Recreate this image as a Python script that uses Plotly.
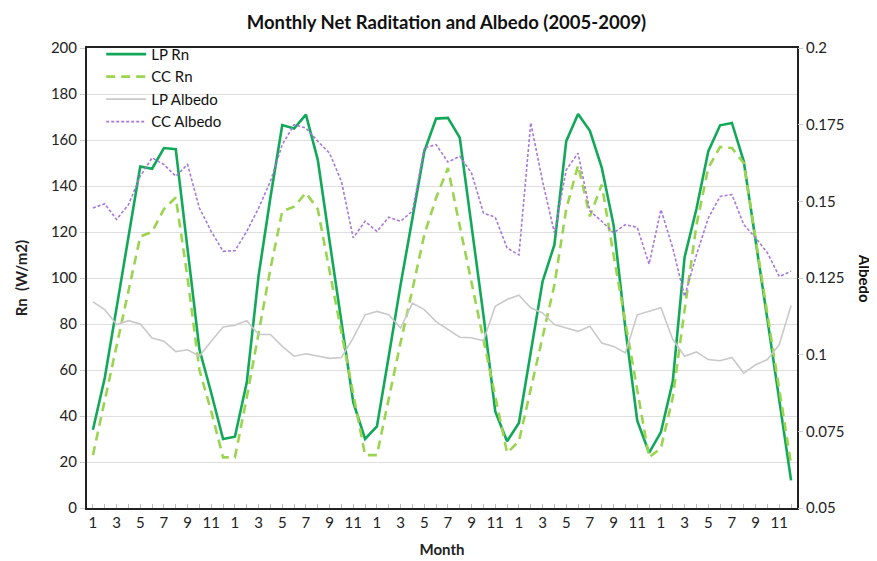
import plotly.graph_objects as go

month_labels = [str(m) if m % 2 == 1 else "" for _ in range(5) for m in range(1, 13)]
months = list(range(1, 61))

lp_rn = [34, 56.5, 87, 118, 148.5, 147.5, 156.5, 156, 113, 69, 50, 30,
         31, 54.5, 101, 135, 166.5, 165, 171, 151.5, 116, 80, 46, 30,
         35.5, 66, 97, 126, 155, 169.3, 169.6, 161, 123, 84, 42, 29,
         37, 68, 98.5, 114.5, 159.5, 171.3, 164, 148, 123, 78, 38, 24,
         33, 55, 109, 130, 155, 166.4, 167.4, 150.7, 117, 82, 47, 12]

cc_rn = [23, 47, 71, 95, 118, 120, 130, 135, 100, 60, 42, 22,
         22, 48, 76.5, 104, 129, 131, 137, 130, 103, 76.5, 49, 23,
         23, 48, 72, 95, 118.7, 134.8, 147.8, 122.6, 98, 73, 47.8, 24,
         29, 51.7, 74, 97, 130, 149, 126.8, 140.6, 110, 81, 52, 22,
         26, 48, 86, 123, 147.8, 157, 156.5, 150, 117, 84, 50, 19]

lp_albedo = [0.1172, 0.1147, 0.1098, 0.1111, 0.1100, 0.1054, 0.1044, 0.1010, 0.1016, 0.0995, 0.1044, 0.1090,
             0.1096, 0.1111, 0.1066, 0.1066, 0.1027, 0.0995, 0.1003, 0.0995, 0.0988, 0.0991, 0.1055, 0.1130,
             0.1141, 0.1130, 0.1087, 0.1168, 0.1147, 0.1108, 0.1081, 0.1057, 0.1055, 0.1045, 0.1158, 0.1180,
             0.1194, 0.1153, 0.1136, 0.1098, 0.1087, 0.1076, 0.1093, 0.1038, 0.1027, 0.1006, 0.1130, 0.1141,
             0.1153, 0.1050, 0.0995, 0.1009, 0.0984, 0.0980, 0.0991, 0.0940, 0.0967, 0.0984, 0.1033, 0.1160]

cc_albedo = [0.1478, 0.1492, 0.1441, 0.1489, 0.1582, 0.1642, 0.1620, 0.1582, 0.1620, 0.1478, 0.1402, 0.1337,
             0.1339, 0.1402, 0.1478, 0.1565, 0.1685, 0.1750, 0.1739, 0.1696, 0.1657, 0.1565, 0.1381, 0.1435,
             0.1402, 0.1448, 0.1435, 0.1468, 0.1674, 0.1685, 0.1628, 0.1647, 0.1592, 0.1462, 0.1448, 0.1348,
             0.1325, 0.1756, 0.1565, 0.1397, 0.1603, 0.1657, 0.1468, 0.1435, 0.1397, 0.1424, 0.1415, 0.1295,
             0.1473, 0.1348, 0.1190, 0.1325, 0.1445, 0.1516, 0.1522, 0.1424, 0.1381, 0.1332, 0.1255, 0.1272]

rn_ticks = list(range(0, 201, 20))
albedo_ticks = [0.05, 0.075, 0.1, 0.125, 0.15, 0.175, 0.2]
albedo_labels = ["0.05", "0.075", "0.1", "0.125", "0.15", "0.175", "0.2"]

FONT = "Lato, 'Open Sans', sans-serif"

fig = go.Figure()
fig.add_trace(go.Scatter(x=months, y=lp_rn, name="LP Rn", mode="lines",
                         line=dict(color="#12a85a", width=2.6)))
fig.add_trace(go.Scatter(x=months, y=cc_rn, name="CC Rn", mode="lines",
                         line=dict(color="#9bd44f", width=2.6, dash="9px,6px")))
fig.add_trace(go.Scatter(x=months, y=lp_albedo, name="LP Albedo", mode="lines", yaxis="y2",
                         line=dict(color="#c9c9c9", width=1.6)))
fig.add_trace(go.Scatter(x=months, y=cc_albedo, name="CC Albedo", mode="lines", yaxis="y2",
                         line=dict(color="#a877dc", width=1.6, dash="3px,2px")))

fig.update_layout(
    width=877, height=561,
    margin=dict(l=74, r=88, t=40, b=61),
    paper_bgcolor="white", plot_bgcolor="white",
    font=dict(family=FONT, size=14, color="#222"),
    title=dict(text="<b>Monthly Net Raditation and Albedo (2005-2009)</b>",
               x=0.5, xanchor="center", y=0.975, yanchor="middle",
               font=dict(size=18.5, color="#111")),
    showlegend=True,
    legend=dict(x=0.02, y=1.022, xanchor="left", yanchor="top",
                bgcolor="rgba(255,255,255,0)", font=dict(size=15, color="#111"),
                tracegroupgap=0, itemwidth=40),
    xaxis=dict(range=[0.5, 60.5], tickmode="array", tickvals=months, ticktext=month_labels,
               ticks="inside", ticklen=4, tickcolor="#bbbbbb", tickangle=0,
               showline=True, linecolor="#222", linewidth=2, mirror=True,
               showgrid=False, zeroline=False,
               title=dict(text="<b>Month</b>", standoff=14, font=dict(size=15)),
               tickfont=dict(size=15)),
    yaxis=dict(range=[0, 200], tickvals=rn_ticks, ticks="outside", ticklen=5, tickcolor="#cccccc",
               showline=True, linecolor="#222", linewidth=2, mirror=True,
               showgrid=True, gridcolor="#dedede", gridwidth=1, zeroline=False,
               title=dict(text="<b>Rn  (W/m2)</b>", standoff=20, font=dict(size=15)),
               tickfont=dict(size=15)),
    yaxis2=dict(range=[0.05, 0.2], overlaying="y", side="right", tickvals=albedo_ticks,
                ticktext=albedo_labels, ticks="outside", ticklen=5, tickcolor="#cccccc",
                showgrid=False, zeroline=False, showline=False, tickfont=dict(size=15)),
    annotations=[dict(text="<b>Albedo</b>", xref="paper", yref="paper", x=1.096, y=0.5,
                      textangle=90, showarrow=False, font=dict(size=15, color="#111"),
                      xanchor="center", yanchor="middle")],
)

fig.write_html("out.html")
